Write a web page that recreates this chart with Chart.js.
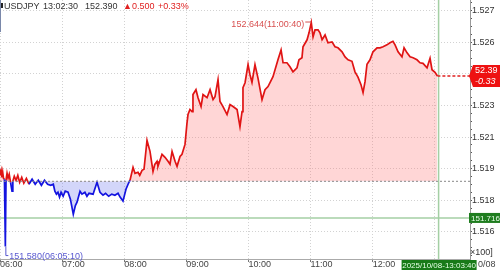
<!DOCTYPE html>
<html><head><meta charset="utf-8">
<script src="https://cdn.jsdelivr.net/npm/chart.js@4/dist/chart.umd.min.js"></script>
<style>html,body{margin:0;padding:0;background:#fff;overflow:hidden}#wrap{width:500px;height:270px;position:relative}</style>
</head><body><div id="wrap"><canvas id="c" width="500" height="270"></canvas></div>
<script>
// minutes since 06:00
const times = [0,0.6,1.2,1.9,2.6,3.4,4.3,5.17,5.8,6.8,7.8,8.9,10.2,11.6,12.4,13.8,15.5,17.2,19,21,23,25.5,28,31,34,37,40,43,46,49,51.5,53,54.5,56,57.5,59,61,63,65.7,68,70.8,72.8,74.4,77.3,79.2,82,84,86,89.9,93.7,96.6,99.5,102,105,108,111,114,116,118.8,121.7,123.7,125.6,128.5,130.4,133.3,135,137.2,139.1,142,144.9,147.8,149.5,151.7,152.6,156.5,159.4,162.3,164.2,166.2,169.1,171,173.9,175.8,178.7,180.6,181.6,183.5,185.5,186.4,189.3,191.3,193.2,194.2,196.1,200,202.9,205.8,207.7,210.6,212.5,215.4,219.3,222.2,225.1,229,231.8,233.8,234.7,236.7,239.6,241.5,243.4,246.3,249.2,253.1,256,258.9,263.7,268.5,271.5,273.4,277.2,280.1,283,286.9,288.8,291.7,292.7,296.6,298.5,300.67,302.4,304.3,307.2,309.1,311.1,314,316.8,320.7,323.6,326.5,330.4,333.3,336.2,340,342.9,345.8,348.7,350.7,352.6,354.5,357.4,360.3,364.2,367.1,370,373.8,376.7,379.6,381.6,384.5,388.3,390.3,393.2,396.1,399,402.8,405.7,408.6,412.5,415.4,417.3,420.2,422.5];
const prices = [151.947,151.918,151.937,151.909,151.933,151.904,151.900,151.580,151.895,151.928,151.905,151.923,151.885,151.843,151.890,151.914,151.895,151.918,151.885,151.909,151.881,151.904,151.876,151.900,151.876,151.895,151.871,151.895,151.876,151.871,151.876,151.843,151.829,151.838,151.815,151.838,151.819,151.843,151.838,151.805,151.734,151.775,151.791,151.843,151.829,151.838,151.819,151.833,151.829,151.885,151.838,151.824,151.833,151.819,151.829,151.824,151.833,151.815,151.796,151.852,151.876,151.895,151.956,151.928,151.933,151.918,151.942,151.947,152.084,152.032,151.937,151.970,151.985,151.961,152.018,152.004,151.985,151.971,152.032,151.985,151.961,152.008,152.018,152.065,152.165,152.207,152.231,152.221,152.302,152.325,152.287,152.259,152.245,152.302,152.287,152.325,152.278,152.292,152.373,152.269,152.245,152.207,152.254,152.245,152.231,152.150,152.221,152.335,152.358,152.444,152.396,152.360,152.444,152.380,152.278,152.325,152.340,152.387,152.467,152.514,152.453,152.453,152.434,152.410,152.429,152.467,152.477,152.529,152.562,152.595,152.644,152.576,152.609,152.609,152.595,152.562,152.585,152.548,152.552,152.529,152.524,152.505,152.481,152.467,152.460,152.410,152.385,152.349,152.311,152.363,152.446,152.467,152.505,152.524,152.524,152.529,152.538,152.548,152.555,152.538,152.505,152.481,152.524,152.500,152.481,152.477,152.467,152.453,152.450,152.429,152.474,152.420,152.408,152.390];

const prevClose = 151.89;
const lastPrice = 152.390;
const lastTime = 422.5;
const cursorTime = 423.67;
const cursorPrice = 151.716;
const highTime = 300.67, highPrice = 152.644;
const lowTime = 5.17, lowPrice = 151.580;

const hourTicks = [0,60,120,180,240,300,360,420];
const hourLabels = ['06:00','07:00','08:00','09:00','10:00','11:00','12:00',''];
const priceTicks = [152.70,152.55,152.40,152.25,152.10,151.95,151.80,151.65];
const priceTickLabels = ['1.527','1.526','1.524','1.523','1.521','1.519','1.518','1.516'];

const headerTexts = ['USDJPY','13:02:30','152.390','▲0.500','+0.33%'];
const highLabel = '152.644(11:00:40)';
const lowLabel = '151.580(06:05:10)';
const cursorPriceLabel = '151.716';
const lastBoxLines = ['52.39','-0.33'];
const cursorDateLabel = '2025/10/08-13:03:40';
const cutDateLabel = '0/08';
const unitLabel = '×100]';

const X_MIN = 0, X_MAX = 454, Y_MIN = 151.521, Y_MAX = 152.751;
const RED = '#e01414', BLUE = '#1414e0';
const FONT = '"Liberation Sans", Arial, sans-serif';

const pricePts = times.map((t,i)=>({x:t,y:prices[i]}));

const overlay = {
  id:'overlay',
  afterDraw(chart){
    const ctx = chart.ctx, xs = chart.scales.x, ys = chart.scales.y;
    ctx.save();
    ctx.strokeStyle='#7a88aa'; ctx.lineWidth=1;
    ctx.beginPath(); ctx.moveTo(0.5,0); ctx.lineTo(0.5,32); ctx.stroke();
    ctx.fillStyle='#222'; ctx.fillRect(1,3,2,5);
    ctx.font='9px '+FONT; ctx.textBaseline='middle'; ctx.textAlign='left';
    const hx=[4,43,85,123,158];
    headerTexts.forEach((t,i)=>{ ctx.fillStyle = i>=3 ? '#e02020' : '#333'; ctx.fillText(t,hx[i],6.5); });
    const hpx = xs.getPixelForValue(highTime), hpy = ys.getPixelForValue(highPrice);
    ctx.fillStyle='#d85050'; ctx.strokeStyle='#d85050'; ctx.textAlign='right';
    ctx.fillText(highLabel, hpx-7, hpy+1.5);
    ctx.beginPath(); ctx.moveTo(hpx-6,hpy-0.5); ctx.lineTo(hpx,hpy-0.5); ctx.stroke();
    const lpx = xs.getPixelForValue(lowTime), lpy = ys.getPixelForValue(lowPrice);
    ctx.fillStyle='#5858d0'; ctx.strokeStyle='#5858d0'; ctx.textAlign='left';
    ctx.beginPath(); ctx.moveTo(lpx+0.5,lpy); ctx.lineTo(lpx+0.5,lpy+9); ctx.lineTo(lpx+3,lpy+9); ctx.stroke();
    ctx.fillText(lowLabel, lpx+4, lpy+9.5);
    const cy = ys.getPixelForValue(cursorPrice);
    ctx.fillStyle='#1f7d1f'; ctx.fillRect(469,cy-5,31,10);
    ctx.fillStyle='#eaffea'; ctx.font='8px '+FONT; ctx.fillText(cursorPriceLabel,471,cy+0.5);
    const ly = ys.getPixelForValue(lastPrice);
    ctx.fillStyle='#ee1111';
    ctx.beginPath(); ctx.moveTo(469,ly); ctx.lineTo(473,ly-11); ctx.lineTo(500,ly-11); ctx.lineTo(500,ly+11); ctx.lineTo(473,ly+11); ctx.closePath(); ctx.fill();
    ctx.fillStyle='#fff'; ctx.font='9px '+FONT;
    ctx.fillText(lastBoxLines[0],475,ly-5);
    ctx.font='italic 9px '+FONT;
    ctx.fillText(lastBoxLines[1],475,ly+5.5);
    ctx.font='9px '+FONT; ctx.fillStyle='#333';
    ctx.fillText(unitLabel,470,253);
    const cx = xs.getPixelForValue(cursorTime);
    ctx.fillStyle='#177a17'; ctx.fillRect(cx-37,260,75,10);
    ctx.fillStyle='#e4ffe4'; ctx.font='8px '+FONT; ctx.textAlign='center';
    ctx.fillText(cursorDateLabel,cx+0.5,265.5);
    ctx.textAlign='left'; ctx.fillStyle='#444'; ctx.font='9px '+FONT;
    ctx.fillText(cutDateLabel,478,265);
    ctx.restore();
  }
};

new Chart(document.getElementById('c'), {
  type:'line',
  data:{datasets:[
    {label:'price', data:pricePts, borderWidth:1.7, pointRadius:0, tension:0, order:3,
     borderColor:RED, borderJoinStyle:'miter',
     segment:{borderColor: c => ((c.p0.parsed.y + c.p1.parsed.y)/2 >= prevClose ? RED : BLUE)},
     fill:{value:prevClose, above:'rgba(255,120,120,0.30)', below:'rgba(110,120,240,0.30)'}},
    {label:'prev', data:[{x:X_MIN,y:prevClose},{x:X_MAX,y:prevClose}], borderColor:'#888', borderWidth:1, borderDash:[2,2], pointRadius:0, fill:false, order:2},
    {label:'last', data:[{x:lastTime,y:lastPrice},{x:X_MAX,y:lastPrice}], borderColor:'#e02020', borderWidth:1.5, borderDash:[3,2], pointRadius:0, fill:false, order:1},
    {label:'cursorH', data:[{x:X_MIN,y:cursorPrice},{x:X_MAX,y:cursorPrice}], borderColor:'#a4cfa4', borderWidth:1.5, pointRadius:0, fill:false, order:4},
    {label:'cursorV', data:[{x:cursorTime,y:Y_MIN},{x:cursorTime,y:Y_MAX}], borderColor:'#a4cfa4', borderWidth:1.5, pointRadius:0, fill:false, order:4}
  ]},
  options:{
    responsive:false, devicePixelRatio:1, animation:false, events:[],
    layout:{padding:0},
    plugins:{legend:{display:false}, tooltip:{enabled:false}},
    scales:{
      x:{type:'linear', min:X_MIN, max:X_MAX, position:'bottom',
         afterBuildTicks:s=>{ s.ticks = hourTicks.map(v=>({value:v})); },
         afterFit:s=>{ s.height=11; s.paddingLeft=0; s.paddingRight=0; s.paddingTop=0; s.paddingBottom=0; },
         ticks:{autoSkip:false, align:'start', maxRotation:0, minRotation:0, padding:-2.5, color:'#444', font:{family:FONT,size:9},
                callback:(v,i)=>hourLabels[i]},
         grid:{color:'#d2d2d2', lineWidth:1, drawTicks:true, tickLength:3, tickColor:'#777'},
         border:{display:true, color:'#aaa', width:1, dash:[1,2]}},
      y:{type:'linear', min:Y_MIN, max:Y_MAX, position:'right',
         afterBuildTicks:s=>{
           const t=[]; const step=(priceTicks[0]-priceTicks[1])/4;
           t.push({value:priceTicks[0]+step, minor:true});
           priceTicks.forEach((v,i)=>{ t.push({value:v, minor:false}); for(let k=1;k<4;k++){ t.push({value:v-step*k, minor:true}); } });
           s.ticks = t.filter(o=>o.value>Y_MIN && o.value<Y_MAX);
         },
         afterFit:s=>{ s.width=30; s.paddingTop=0; s.paddingBottom=0; s.paddingLeft=0; s.paddingRight=0; },
         ticks:{autoSkip:false, padding:0, color:'#333', font:{family:FONT,size:9},
                callback:(v)=>{ const i=priceTicks.findIndex(p=>Math.abs(p-v)<1e-6); return i>=0?priceTickLabels[i]:''; }},
         grid:{color:c=>(c.tick && c.tick.minor ? 'rgba(0,0,0,0)' : '#d2d2d2'), lineWidth:1, drawTicks:true, tickLength:2, tickColor:'#555'},
         border:{display:true, color:'#999', width:1, dash:[1,2]}}
    }
  },
  plugins:[overlay]
});
</script></body></html>
